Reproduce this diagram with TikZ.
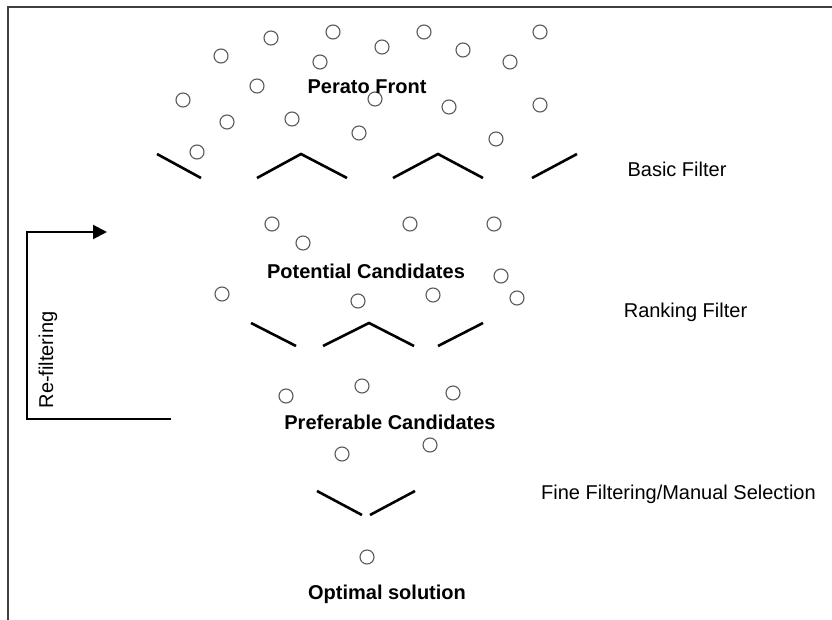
\documentclass[tikz,border=0pt]{standalone}
\usepackage{fontspec}
\setmainfont{Liberation Sans}
\usetikzlibrary{arrows.meta}
\tikzset{
  dot/.style={circle,draw=black!65,line width=1.1pt,minimum size=14pt,inner sep=0pt},
  filt/.style={line width=2.6pt,black},
  lbl/.style={font=\fontsize{20}{24}\selectfont,inner sep=0pt,anchor=base},
  blbl/.style={lbl,font=\fontsize{20}{24}\selectfont\bfseries},
  frame/.style={line width=1.8pt,black!75},
  refl/.style={line width=2pt,black}
}
\begin{document}
\begin{tikzpicture}[x=1pt,y=-1pt]
\useasboundingbox (0,0) rectangle (832,620);
% frame
\draw[frame] (832,7) -- (8,7) -- (8,620);
% top cloud
\foreach \n/\p in {a1/{271,38},a2/{221,56},a3/{257,86},a4/{183,100},a5/{227,122},a6/{292,119},a7/{197,152},a8/{333,32},a9/{382,47},a10/{424,32},a11/{463,50},a12/{540,32},a13/{320,62},a14/{510,62},a15/{375,99},a16/{449,107},a17/{540,105},a18/{359,133},a19/{496,139}}
  \node[dot] (\n) at (\p) {};
% potential
\foreach \n/\p in {b1/{272,224},b2/{303,243},b3/{410,224},b4/{494,224},b5/{501,276},b6/{222,294},b7/{358,301},b8/{433,295},b9/{517,298}}
  \node[dot] (\n) at (\p) {};
% preferable
\foreach \n/\p in {c1/{286,396},c2/{362,386},c3/{453,393},c4/{342,454},c5/{430,445}}
  \node[dot] (\n) at (\p) {};
% optimal
\node[dot] (d1) at (367,557) {};
% basic filter
\draw[filt] (157,154) -- (201,178);
\draw[filt] (257,178) -- (301,154) -- (347,178);
\draw[filt] (393,178) -- (438,154) -- (483,178);
\draw[filt] (532,178) -- (577,154);
% ranking filter
\draw[filt] (251,323) -- (296,346);
\draw[filt] (323,346) -- (369,323) -- (414,346);
\draw[filt] (438,346) -- (483,323);
% fine filter
\draw[filt] (317,491) -- (362,515);
\draw[filt] (370,515) -- (415,491);
% labels
\node[blbl] (pf) at (367,94) {Perato Front};
\node[blbl] (pc) at (366,279) {Potential Candidates};
\node[blbl] (prc) at (390,429) {Preferable Candidates};
\node[blbl] (os) at (387,599) {Optimal solution};
\node[lbl] (bf) at (677,177) {Basic Filter};
\node[lbl] (rf) at (685.5,317) {Ranking Filter};
\node[lbl] (ff) at (678.5,499) {Fine Filtering/Manual Selection};
\node[lbl,rotate=90] (re) at (53,360) {Re-filtering};
% re-filtering arrow
\coordinate (rs) at (171,419);
\coordinate (rb) at (27,419);
\coordinate (rt) at (27,232);
\coordinate (re2) at (107,232);
\draw[refl,-{Triangle[length=14pt,width=14pt]}] (rs) -- (rb) -- (rt) -- (re2);
\end{tikzpicture}
\end{document}
